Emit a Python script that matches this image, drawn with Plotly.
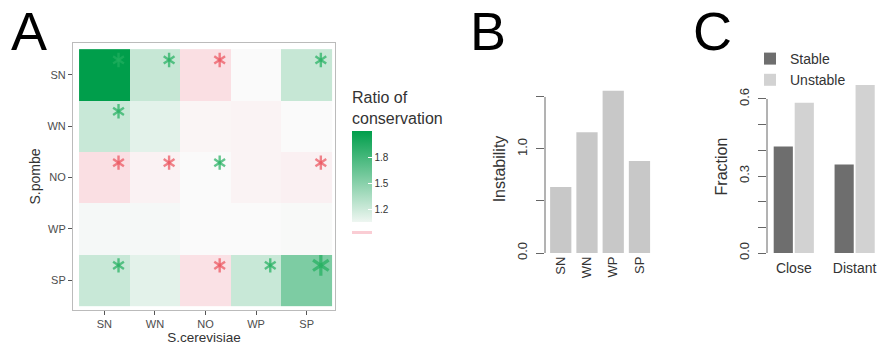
import plotly.graph_objects as go

# ---------------- data ----------------
cats = ["SN", "WN", "NO", "WP", "SP"]           # S.cerevisiae (x) and S.pombe (y)
ratio = [                                        # rows: S.pombe SN..SP, cols: S.cerevisiae SN..SP
    [2.10, 1.23, 0.90, 1.00, 1.23],
    [1.22, 1.10, 0.98, 0.975, 1.00],
    [0.90, 0.97, 1.00, 0.975, 0.965],
    [1.02, 1.02, 1.00, 1.00, 1.01],
    [1.22, 1.10, 0.91, 1.22, 1.55],
]
star_row = ["SN", "SN", "SN", "SN", "WN", "NO", "NO", "NO", "NO", "SP", "SP", "SP", "SP"]
star_col = ["SN", "WN", "NO", "SP", "SN", "SN", "WN", "NO", "SP", "SN", "NO", "WP", "SP"]
star_dir = ["up", "up", "down", "up", "up", "down", "down", "up", "down", "up", "down", "up", "up"]
star_lvl = [1, 1, 1, 1, 1, 1, 1, 1, 1, 1, 1, 1, 2]

inst_cats = ["SN", "WN", "WP", "SP"]
instability = [0.635, 1.16, 1.56, 0.885]

groups = ["Close", "Distant"]
stable = [0.415, 0.345]
unstable = [0.585, 0.655]

# ---------------- style ----------------
W, H = 879, 347
FONT = "Liberation Sans, Arial, sans-serif"
TXT = "#333333"
GREEN = "rgb(0,158,75)"
WHITE = "rgb(250,250,250)"
PINK = "rgb(250,195,203)"
STAR_G = "rgb(34,176,95)"
STAR_R = "rgb(236,82,92)"

def px_x(p):
    return p / W

def px_y(p):
    return 1 - p / H

fig = go.Figure()

# ---- Panel A: heatmap ----
zmin, zmax = 0.8, 2.1
fig.add_trace(go.Heatmap(
    z=ratio, x=list(range(len(cats))), y=list(range(len(cats))),
    zmin=zmin, zmax=zmax,
    colorscale=[[0, PINK], [(1.0 - zmin) / (zmax - zmin), WHITE], [1, GREEN]],
    showscale=False, xgap=0, ygap=0, hoverinfo="z",
    xaxis="x", yaxis="y",
))

# colour bar (green part only, as in the reference)
fig.add_trace(go.Scatter(
    x=[0], y=[0], mode="markers", xaxis="x", yaxis="y", hoverinfo="skip",
    marker=dict(size=1, opacity=0, color=[1.5], cmin=1.056, cmax=2.1,
                colorscale=[[0, "rgb(238,246,241)"], [1, GREEN]],
                showscale=True,
                colorbar=dict(
                    x=px_x(352), xanchor="left", xpad=0,
                    y=px_y(222), yanchor="bottom", ypad=0,
                    len=134, lenmode="pixels", thickness=20, thicknessmode="pixels",
                    outlinewidth=0,
                    tickvals=[1.2, 1.5, 1.8], ticktext=["1.2", "1.5", "1.8"],
                    ticks="inside", ticklen=4, tickcolor="white", tickwidth=1,
                    tickfont=dict(family=FONT, size=10, color=TXT),
                    title=dict(text="Ratio of<br>conservation", side="top",
                               font=dict(family=FONT, size=16, color=TXT)),
                )),
    showlegend=False,
))

# significance stars
idx = {c: i for i, c in enumerate(cats)}
sx = [idx[c] + 0.28 for c in star_col]
sy = [idx[r] - 0.29 for r in star_row]
scol = [STAR_G if d == "up" else STAR_R for d in star_dir]
ssize = [9 if l == 1 else 13 for l in star_lvl]
swid = [2.4 if l == 1 else 3.2 for l in star_lvl]
for sym in ["y-up", "y-down"]:
    fig.add_trace(go.Scatter(
        x=sx, y=sy, mode="markers", xaxis="x", yaxis="y", hoverinfo="skip",
        marker=dict(symbol=sym, size=ssize, color=scol,
                    line=dict(color=scol, width=swid)),
        showlegend=False,
    ))

# ---- Panel B: instability bars ----
fig.add_trace(go.Bar(
    x=inst_cats, y=instability, xaxis="x2", yaxis="y2", width=0.81,
    marker=dict(color="rgb(200,200,200)", line=dict(width=0)), showlegend=False,
))

# ---- Panel C: fraction bars ----
fig.add_trace(go.Bar(
    x=groups, y=stable, name="Stable", xaxis="x3", yaxis="y3",
    offset=-0.33, width=0.315, marker=dict(color="rgb(110,110,110)", line=dict(width=0)),
))
fig.add_trace(go.Bar(
    x=groups, y=unstable, name="Unstable", xaxis="x3", yaxis="y3",
    offset=0.015, width=0.315, marker=dict(color="rgb(210,210,210)", line=dict(width=0)),
))

axcol = "#666666"
fig.update_layout(
    width=W, height=H, margin=dict(l=0, r=0, t=0, b=0, autoexpand=False),
    paper_bgcolor="white", plot_bgcolor="white",
    font=dict(family=FONT, color=TXT),
    barmode="overlay",
    # A
    xaxis=dict(domain=[px_x(73), px_x(335)], range=[-0.62, 4.56], automargin=False,
               tickvals=list(range(len(cats))), ticktext=cats,
               ticks="outside", ticklen=4, tickcolor="#555", showgrid=False, zeroline=False,
               showline=True, mirror=True, linecolor="#bbbbbb", linewidth=1,
               tickfont=dict(size=11, color="#4d4d4d"),
               title=dict(text="S.cerevisiae", font=dict(size=13.5, color=TXT), standoff=3)),
    yaxis=dict(domain=[px_y(310), px_y(43)], range=[4.58, -0.62], automargin=False,
               tickvals=list(range(len(cats))), ticktext=cats,
               ticks="outside", ticklen=4, tickcolor="#555", showgrid=False, zeroline=False,
               showline=True, mirror=True, linecolor="#bbbbbb", linewidth=1,
               tickfont=dict(size=11, color="#4d4d4d"),
               title=dict(text="S.pombe", font=dict(size=14, color=TXT), standoff=3)),
    # B
    xaxis2=dict(domain=[px_x(545), px_x(656)], range=[-0.6, 3.63], anchor="y2",
                automargin=False,
                showgrid=False, zeroline=False, showline=False, ticks="",
                tickangle=-90, tickfont=dict(size=13, color=TXT)),
    yaxis2=dict(domain=[px_y(253), px_y(85)], range=[0, 1.615], anchor="x2",
                automargin=False,
                tickvals=[0, 0.5, 1.0, 1.5], ticktext=["0.0", "", "1.0", ""],
                ticks="outside", ticklen=8, tickcolor=axcol, showgrid=False, zeroline=False,
                showline=False, tickangle=-90, ticklabelstandoff=4,
                tickfont=dict(size=13, color=TXT),
                title=dict(text="Instability", font=dict(size=16, color=TXT), standoff=5)),
    # C
    xaxis3=dict(domain=[px_x(767), px_x(879)], range=[-0.44, 1.4], anchor="y3",
                automargin=False,
                showgrid=False, zeroline=False, showline=False, ticks="",
                ticklabelstandoff=5,
                tickfont=dict(size=14, color=TXT)),
    yaxis3=dict(domain=[px_y(253), px_y(80)], range=[0, 0.674], anchor="x3",
                automargin=False,
                tickvals=[0, 0.1, 0.2, 0.3, 0.4, 0.5, 0.6],
                ticktext=["0.0", "", "", "0.3", "", "", "0.6"],
                ticks="outside", ticklen=8, tickcolor=axcol, showgrid=False, zeroline=False,
                showline=False, tickangle=-90, ticklabelstandoff=4,
                tickfont=dict(size=13, color=TXT),
                title=dict(text="Fraction", font=dict(size=16, color=TXT), standoff=5)),
    legend=dict(x=px_x(750), y=px_y(43), xanchor="left", yanchor="top",
                bgcolor="rgba(0,0,0,0)", font=dict(size=14, color=TXT),
                tracegroupgap=0, itemwidth=30),
)

# axis lines (R style: spanning the labelled tick range only)
fig.add_shape(type="line", xref="x2 domain", yref="y2", x0=0, x1=0, y0=0, y1=1.5,
              line=dict(color=axcol, width=1))
fig.add_shape(type="line", xref="x3 domain", yref="y3", x0=0, x1=0, y0=0, y1=0.6,
              line=dict(color=axcol, width=1))
# pink key under the colour bar (ratio < 1)
fig.add_shape(type="rect", xref="paper", yref="paper",
              x0=px_x(352), x1=px_x(372), y0=px_y(234), y1=px_y(231),
              fillcolor="rgb(250,205,212)", line=dict(width=0))

# panel letters
for letter, xl in [("A", 10), ("B", 469), ("C", 692)]:
    fig.add_annotation(text=letter, xref="paper", yref="paper",
                       x=px_x(xl), y=1, xanchor="left", yanchor="top",
                       borderpad=0, showarrow=False,
                       font=dict(family=FONT, size=54, color="black"))

fig.write_html("out.html", config={"displayModeBar": False},
               post_script="document.body.style.margin='0';document.body.style.overflow='hidden';")
